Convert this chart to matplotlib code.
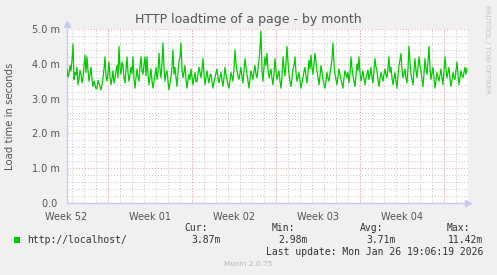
import matplotlib
matplotlib.use("Agg")
import matplotlib.pyplot as plt
import matplotlib.patches as mpatches
import numpy as np

# ---- data ----
title = "HTTP loadtime of a page - by month"
ylabel = "Load time in seconds"
week_labels = ["Week 52", "Week 01", "Week 02", "Week 03", "Week 04"]
ytick_values = [0.0, 1.0, 2.0, 3.0, 4.0, 5.0]
ytick_labels = ["0.0 ", "1.0 m", "2.0 m", "3.0 m", "4.0 m", "5.0 m"]
series_name = "http://localhost/"
cur_val, min_val, avg_val, max_val = "3.87m", "2.98m", "3.71m", "11.42m"
last_update = "Last update: Mon Jan 26 19:06:19 2026"
footer = "Munin 2.0.75"
side_text = "RRDTOOL / TOBI OETIKER"

# load time (ms), one sample every 2 hours
loadtime = [
    3.85, 3.62, 3.70, 3.95, 3.80, 4.10, 4.57, 3.55, 3.75, 3.68, 3.90, 3.40, 3.55, 3.82, 3.70, 3.45, 3.60, 3.95, 4.25, 3.75,
    4.20, 3.80, 3.50, 3.70, 3.90, 3.55, 3.35, 3.50, 3.40, 3.28, 3.30, 3.52, 3.45, 3.33, 3.25, 3.40, 3.60, 3.85, 4.20, 3.65,
    3.50, 3.75, 4.05, 3.62, 3.40, 3.58, 3.80, 3.45, 3.60, 3.78, 3.95, 3.60, 4.50, 3.88, 3.70, 4.05, 3.95, 3.60, 3.45, 3.82,
    4.20, 3.75, 3.50, 3.68, 3.90, 3.72, 4.20, 3.55, 3.30, 3.60, 3.85, 3.62, 3.50, 3.92, 4.20, 3.80, 3.70, 3.98, 4.20, 3.65,
    4.20, 3.70, 3.40, 3.62, 3.85, 3.50, 3.30, 3.48, 3.70, 3.90, 3.55, 3.78, 4.30, 3.85, 3.60, 4.00, 4.60, 3.90, 3.50, 3.72,
    3.80, 3.50, 3.25, 3.45, 3.60, 3.92, 4.40, 3.70, 3.90, 3.60, 3.35, 3.75, 4.05, 4.20, 4.60, 3.85, 3.60, 3.75, 3.95, 3.55,
    3.30, 3.52, 3.70, 3.55, 3.85, 3.62, 3.40, 3.58, 3.75, 3.48, 3.50, 3.70, 3.90, 3.75, 3.60, 3.82, 4.15, 3.70, 3.40, 3.62,
    3.80, 3.58, 3.45, 3.68, 3.70, 3.50, 3.30, 3.47, 3.60, 3.75, 3.85, 3.60, 3.45, 3.62, 3.75, 3.52, 3.35, 3.60, 3.90, 3.70,
    3.55, 3.40, 3.30, 3.52, 3.75, 3.62, 3.50, 3.85, 4.40, 4.00, 3.80, 3.65, 3.55, 3.72, 3.90, 3.62, 3.45, 3.80, 4.15, 3.90,
    3.70, 3.48, 3.30, 3.55, 3.80, 3.65, 3.55, 3.78, 3.95, 3.70, 3.60, 3.85, 4.10, 4.45, 4.94, 3.80, 3.50, 3.90, 4.20, 3.95,
    4.30, 3.85, 3.60, 3.72, 3.85, 3.58, 3.40, 3.70, 4.15, 3.80, 3.55, 3.68, 3.80, 3.50, 3.30, 3.62, 4.20, 3.90, 3.65, 4.00,
    4.50, 4.05, 3.70, 3.50, 3.35, 3.58, 3.85, 3.95, 4.20, 3.75, 3.50, 3.62, 3.75, 3.52, 3.30, 3.45, 3.60, 3.78, 3.90, 3.65,
    3.45, 3.72, 4.10, 3.85, 4.25, 3.90, 3.70, 3.98, 4.30, 4.05, 3.80, 3.60, 3.40, 3.65, 3.95, 3.78, 3.55, 3.42, 3.30, 3.50,
    3.75, 3.60, 3.50, 3.70, 3.90, 4.15, 4.60, 4.00, 3.70, 3.55, 3.40, 3.62, 3.85, 3.70, 3.55, 3.42, 3.30, 3.58, 3.80, 3.70,
    3.60, 3.75, 3.45, 3.70, 4.20, 3.88, 3.65, 3.50, 3.35, 3.68, 4.00, 3.80, 4.20, 3.75, 3.50, 3.65, 3.80, 3.58, 3.40, 3.60,
    3.70, 3.82, 3.55, 3.68, 3.90, 3.62, 3.45, 3.80, 4.15, 3.92, 3.80, 3.55, 3.35, 3.58, 3.75, 3.62, 3.50, 3.70, 3.85, 3.68,
    3.60, 3.88, 4.20, 3.75, 3.90, 3.60, 3.40, 3.58, 3.75, 3.50, 3.30, 3.65, 3.95, 4.10, 4.30, 3.85, 3.60, 3.72, 3.85, 3.58,
    3.45, 3.85, 4.50, 4.05, 3.70, 3.55, 3.40, 3.78, 4.15, 3.82, 3.60, 3.90, 4.20, 3.95, 3.80, 3.55, 3.35, 3.70, 4.15, 3.85,
    3.70, 4.05, 4.50, 3.90, 3.55, 3.72, 3.90, 3.60, 3.30, 3.52, 3.75, 3.62, 3.50, 3.68, 3.85, 3.60, 3.40, 3.78, 4.20, 3.85,
    3.60, 3.75, 3.90, 3.58, 3.35, 3.52, 3.75, 3.62, 3.55, 3.80, 4.05, 3.70, 3.40, 3.60, 3.80, 3.65, 3.60, 3.75, 3.90, 3.70,
    3.87,
]
sample_days = 1.0 / 12.0        # 2-hour step
first_monday = 3.44             # days from left edge to first week boundary
span_days = 33.42

# ---- figure ----
W, H = 497, 275
fig = plt.figure(figsize=(W / 100, H / 100), dpi=100, facecolor="#F0F0F0")
L, R, T, B = 67, 468, 29, 203
ax = fig.add_axes([L / W, 1 - B / H, (R - L) / W, (B - T) / H])
ax.set_facecolor("white")

t = np.arange(len(loadtime)) * sample_days
ax.set_xlim(0, span_days)
ax.set_ylim(0, 5.0)

minor_col = "#c4c4c4"
major_col = "#e8a0a0"
for d in np.arange(first_monday % 1.0, span_days, 1.0):
    ax.axvline(d, color=minor_col, lw=0.7, dashes=(1, 2), zorder=1)
for yv in np.arange(0.2, 5.0, 0.2):
    if abs(yv - round(yv)) > 1e-6:
        ax.axhline(yv, color=minor_col, lw=0.7, dashes=(1, 2), zorder=1)
for d in np.arange(first_monday, span_days, 7.0):
    ax.axvline(d, color=major_col, lw=0.7, dashes=(1, 2), zorder=2)
for yv in ytick_values[1:]:
    ax.axhline(yv, color=major_col, lw=0.7, dashes=(1, 2), zorder=2)

ax.plot(t, loadtime, color="#00CC00", lw=0.9, zorder=3)

for s in ["top", "right"]:
    ax.spines[s].set_visible(False)
for s in ["left", "bottom"]:
    ax.spines[s].set_color("#c8c8f4")
    ax.spines[s].set_linewidth(1.0)
ax.plot(1.0, 0, marker=">", color="#c8c8f4", ms=4, transform=ax.transAxes, clip_on=False, zorder=5)
ax.plot(0, 1.03, marker="^", color="#c8c8f4", ms=4, transform=ax.transAxes, clip_on=False, zorder=5)

txt_col = "#555555"
ax.set_yticks(ytick_values)
ax.set_yticklabels(ytick_labels, fontsize=7, color=txt_col)
ax.tick_params(axis="y", length=0, pad=5)
ax.set_xticks([])
for i, lab in enumerate(week_labels):
    ax.text(first_monday - 3.5 + 7 * i, -0.05, lab, transform=ax.get_xaxis_transform(),
            ha="center", va="top", fontsize=7, color=txt_col, clip_on=False)

fig.text(248 / W, 1 - 19 / H, title, ha="center", va="center", fontsize=9, color=txt_col)
fig.text(10 / W, 1 - 116 / H, ylabel, ha="center", va="center", rotation=90, fontsize=7.3, color=txt_col)
fig.text(487 / W, 1 - 5 / H, side_text, ha="center", va="top", rotation=270, fontsize=5, color="#c4c4c4")

mono = "DejaVu Sans Mono"
fig.add_artist(mpatches.Rectangle((14 / W, 1 - 243 / H), 6 / W, 6 / H, transform=fig.transFigure,
                                  facecolor="#00CC00", edgecolor="none"))
fig.text(27 / W, 1 - 240 / H, series_name, ha="left", va="center", fontsize=7, family=mono, color="#333333")
for x_end, head in zip([208, 295, 383, 470], ["Cur:", "Min:", "Avg:", "Max:"]):
    fig.text(x_end / W, 1 - 228 / H, head, ha="right", va="center", fontsize=7, family=mono, color="#333333")
for x_end, val in zip([221, 308, 396, 483], [cur_val, min_val, avg_val, max_val]):
    fig.text(x_end / W, 1 - 240 / H, val, ha="right", va="center", fontsize=7, family=mono, color="#333333")
fig.text(483 / W, 1 - 252 / H, last_update, ha="right", va="center", fontsize=7, family=mono, color="#333333")
fig.text(248 / W, 1 - 264 / H, footer, ha="center", va="center", fontsize=5.3, color="#b8b8b8")

fig.savefig("out.png", dpi=100, facecolor=fig.get_facecolor())
